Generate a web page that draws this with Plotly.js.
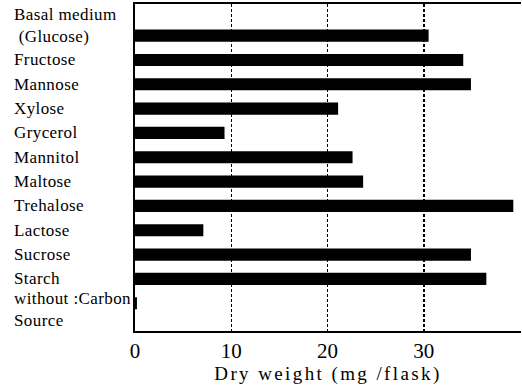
<!DOCTYPE html>
<html>
<head>
<meta charset="utf-8">
<script src="https://cdn.plot.ly/plotly-3.0.1.min.js"></script>
<style>
  html, body { margin: 0; padding: 0; background: #fff; }
  #chart { width: 522px; height: 386px; }
  .xtitle { letter-spacing: 2.4px; }
  .annotation-text { letter-spacing: 0.4px; }
</style>
</head>
<body>
<div id="chart"></div>
<script>
// Data
const categories = [
  "Basal medium (Glucose)", "Fructose", "Mannose", "Xylose", "Grycerol",
  "Mannitol", "Maltose", "Trehalose", "Lactose", "Sucrose", "Starch",
  "without Carbon Source"
];
const labels = [
  "Basal medium<br>&nbsp;(Glucose)", "Fructose", "Mannose", "Xylose", "Grycerol",
  "Mannitol", "Maltose", "Trehalose", "Lactose", "Sucrose", "Starch",
  "without :Carbon<br>Source"
];
const dryWeight = [30.5, 34.1, 34.9, 21.1, 9.3, 22.6, 23.7, 39.3, 7.1, 34.9, 36.5, 0.2];
const xTicks = [0, 10, 20, 30];

const serif = "Liberation Serif, Times New Roman, serif";

const trace = {
  type: "bar",
  orientation: "h",
  x: dryWeight,
  y: categories,
  width: 0.5,
  marker: { color: "#000", line: { width: 0 } },
  hoverinfo: "x+y"
};

const annotations = categories.map((c, i) => {
  let shift = 0;
  if (labels[i].indexOf("<br>") >= 0) shift = (i === 0) ? 10 : -6;
  return {
    xref: "paper", yref: "y",
    x: -0.3187, y: c,
    xanchor: "left", yanchor: "middle",
    align: "left",
    yshift: shift,
    text: labels[i],
    showarrow: false,
    font: { family: serif, size: 17, color: "#000" }
  };
});

const layout = {
  width: 522, height: 386,
  margin: { l: 135, r: 1, t: 4, b: 55 },
  paper_bgcolor: "#fff", plot_bgcolor: "#fff",
  showlegend: false,
  xaxis: {
    range: [0, 40.1],
    tickvals: xTicks,
    ticktext: xTicks.map(String),
    ticks: "",
    showgrid: true,
    gridcolor: "#000",
    gridwidth: 1.5,
    griddash: "3px,2px",
    zeroline: false,
    showline: true,
    linecolor: "#000",
    linewidth: 2,
    mirror: true,
    tickfont: { family: serif, size: 21, color: "#000" },
    title: { text: "Dry weight (mg /flask)", font: { family: serif, size: 19, color: "#000" }, standoff: 4 }
  },
  yaxis: {
    type: "category",
    categoryorder: "array",
    categoryarray: categories,
    range: [12.14, -1.30],
    showticklabels: false,
    ticks: "",
    showgrid: false,
    zeroline: false,
    showline: true,
    linecolor: "#000",
    linewidth: 2
  },
  annotations: annotations
};

Plotly.newPlot("chart", [trace], layout, { displayModeBar: false, staticPlot: true });
</script>
</body>
</html>
